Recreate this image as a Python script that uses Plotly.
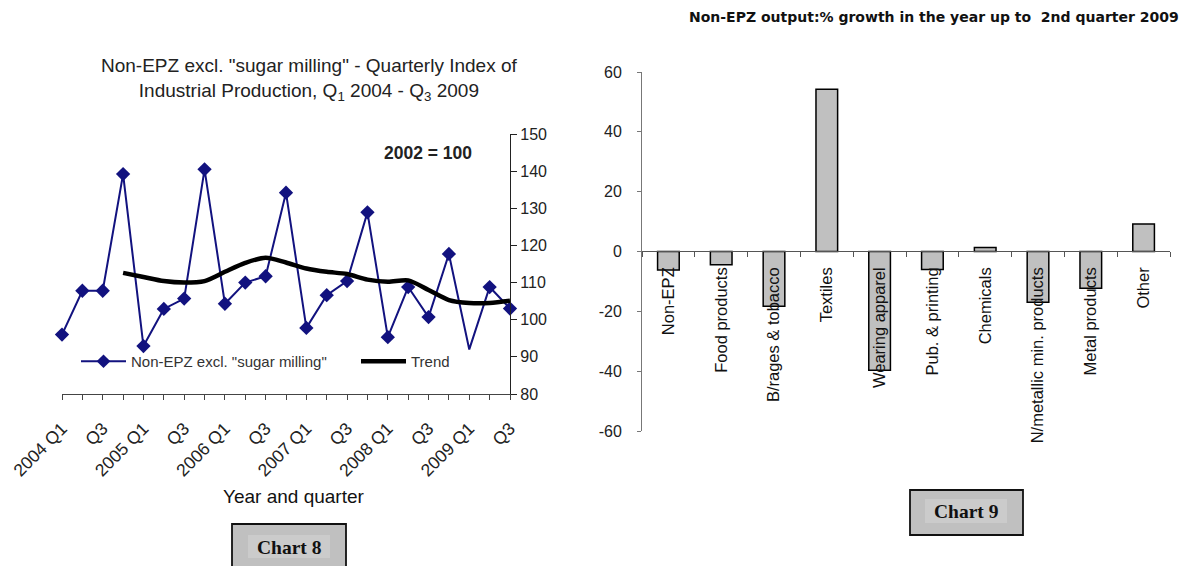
import plotly.graph_objects as go

# ---------------- data ----------------
quarter_labels = ["2004 Q1", "Q2", "Q3", "Q4",
                  "2005 Q1", "Q2", "Q3", "Q4",
                  "2006 Q1", "Q2", "Q3", "Q4",
                  "2007 Q1", "Q2", "Q3", "Q4",
                  "2008 Q1", "Q2", "Q3", "Q4",
                  "2009 Q1", "Q2", "Q3"]
index_values = [96.0, 107.8, 107.8, 139.2, 92.9, 102.9, 105.7, 140.5,
                104.3, 110.0, 111.7, 134.2, 97.8, 106.6, 110.4, 128.9,
                95.3, 108.8, 100.7, 117.7, 92.0, 108.8, 103.0]
trend_values = [None, None, None, 112.6, 111.5, 110.4, 110.0, 110.4,
                112.9, 115.3, 116.7, 115.4, 113.8, 112.9, 112.3, 110.8,
                110.2, 110.6, 108.0, 105.3, 104.5, 104.5, 105.1]

sectors = ["Non-EPZ", "Food products", "B/rages & tobacco", "Textiles",
           "Wearing apparel", "Pub. & printing", "Chemicals",
           "N/metallic min. products", "Metal products", "Other"]
growth = [-6.2, -4.4, -18.3, 54.2, -39.7, -6.0, 1.3, -17.0, -12.3, 9.2]
growth_ticks = [-60, -40, -20, 0, 20, 40, 60]
growth_tick_labels = ["-60", "-40", "-20", "0", "20", "40", "60"]

# ---------------- layout helpers ----------------
W, H = 1190, 566
def px(x):
    return x / W
def py(y):
    return 1 - y / H

FONT = "Arial, Liberation Sans, sans-serif"
SERIF = "Times New Roman, Liberation Serif, serif"
WIDE_BOLD = "DejaVu Sans, Arial, sans-serif"
BLUE = "#12127f"

x_idx = list(range(len(quarter_labels)))
major_idx = x_idx[::2]
major_text = quarter_labels[::2]
marker_sizes = [11] * len(index_values)
marker_sizes[20] = 0

fig = go.Figure()

fig.add_trace(go.Scatter(
    x=x_idx, y=index_values, mode="lines+markers",
    name='Non-EPZ excl. "sugar milling"',
    line=dict(color=BLUE, width=2),
    marker=dict(symbol="diamond", size=marker_sizes, color=BLUE,
                opacity=1, line=dict(width=0)),
    cliponaxis=False, xaxis="x", yaxis="y"))

fig.add_trace(go.Scatter(
    x=x_idx, y=trend_values, mode="lines", name="Trend",
    line=dict(color="black", width=4.5, shape="spline", smoothing=0.8),
    connectgaps=False, cliponaxis=False, xaxis="x", yaxis="y"))

fig.add_trace(go.Bar(
    x=sectors, y=growth, width=0.41, showlegend=False,
    marker=dict(color="#c0c0c0", line=dict(color="black", width=1.5)),
    xaxis="x2", yaxis="y2"))

# label-only companion traces (draw nothing; they carry the tick-label axes)
fig.add_trace(go.Scatter(x=x_idx, y=index_values, mode="none",
                         showlegend=False, hoverinfo="skip",
                         xaxis="x3", yaxis="y"))
fig.add_trace(go.Scatter(x=sectors, y=growth, mode="none",
                         showlegend=False, hoverinfo="skip",
                         xaxis="x4", yaxis="y2"))

fig.update_layout(
    width=W, height=H, margin=dict(l=0, r=0, t=0, b=0, autoexpand=False),
    paper_bgcolor="white", plot_bgcolor="white",
    font=dict(family=FONT, color="#222", size=15),
    # left chart: axis line + ticks
    xaxis=dict(domain=[px(62), px(510)], range=[0, 22], anchor="y",
               tickmode="linear", tick0=0, dtick=1, showticklabels=False,
               showline=True, linecolor="#444", linewidth=1,
               ticks="outside", ticklen=5, tickcolor="#444",
               showgrid=False, zeroline=False, automargin=False),
    # left chart: tick labels
    xaxis3=dict(overlaying="x", range=[0, 22], anchor="free",
                position=py(414),
                tickmode="array", tickvals=major_idx, ticktext=major_text,
                tickangle=-45, tickfont=dict(size=17.5, color="#222"),
                ticks="", showline=False,
                showgrid=False, zeroline=False, automargin=False),
    yaxis=dict(domain=[py(394), py(134)], range=[80, 150], dtick=10,
               side="right", anchor="x",
               tickfont=dict(size=16, color="#222"),
               showline=True, linecolor="#222", linewidth=1.2,
               ticks="outside", ticklen=6, tickcolor="#222",
               showgrid=False, zeroline=False, automargin=False),
    # right chart: axis line at zero + boundary ticks
    xaxis2=dict(domain=[px(642), px(1170)], anchor="free",
                position=py(251), showticklabels=False,
                showline=True, linecolor="#555", linewidth=1.2,
                ticks="outside", ticklen=5, tickcolor="#555",
                tickson="boundaries",
                showgrid=False, zeroline=False, automargin=False),
    # right chart: category labels
    xaxis4=dict(overlaying="x2", matches="x2", anchor="free",
                position=py(263),
                tickangle=-90, tickfont=dict(size=16.5, color="#111"),
                ticks="", showline=False,
                showgrid=False, zeroline=False, automargin=False),
    yaxis2=dict(domain=[py(431), py(72)], range=[-60, 60],
                tickmode="array", tickvals=growth_ticks,
                ticktext=growth_tick_labels,
                anchor="x2", ticklabelstandoff=12,
                tickfont=dict(size=16, color="#222"),
                showline=True, linecolor="#777", linewidth=1,
                ticks="outside", ticklen=4, tickcolor="#777",
                showgrid=False, zeroline=False, automargin=False),
    legend=dict(orientation="h", x=px(76), y=py(345), xanchor="left",
                yanchor="top", font=dict(size=15, color="#333"),
                bgcolor="rgba(0,0,0,0)", entrywidth=220,
                entrywidthmode="pixels", itemwidth=45),
)

def ann(text, x, y, size, xanchor="center", family=FONT, color="#222"):
    return dict(text=text, x=px(x), y=py(y), xref="paper", yref="paper",
                xanchor=xanchor, yanchor="middle", showarrow=False,
                align="center", font=dict(size=size, color=color, family=family))

annotations = [
    ann('Non-EPZ excl. "sugar milling" - Quarterly Index of<br>'
        'Industrial Production, Q<sub>1</sub> 2004 - Q<sub>3</sub> 2009',
        309, 79, 19),
    ann("<b>2002 = 100</b>", 428, 153, 17.5),
    ann("Year and quarter", 294, 496, 19, color="#111"),
    ann("<b>Non-EPZ output:% growth in the year up to  2nd quarter 2009</b>",
        1181, 17, 14, xanchor="right", family=WIDE_BOLD, color="#111"),
    ann("<b>Chart 8</b>", 289, 547, 19.5, family=SERIF, color="#111"),
    ann("<b>Chart 9</b>", 966, 511, 19.5, family=SERIF, color="#111"),
]
fig.update_layout(annotations=annotations)

shapes = [
    dict(type="rect", xref="paper", yref="paper", x0=px(232), x1=px(346),
         y0=py(572), y1=py(524), fillcolor="#c0c0c0",
         line=dict(color="#111", width=1.8), layer="below"),
    dict(type="rect", xref="paper", yref="paper", x0=px(248), x1=px(330),
         y0=py(558), y1=py(535), fillcolor="#cbcbcb",
         line=dict(width=0), layer="below"),
    dict(type="rect", xref="paper", yref="paper", x0=px(910), x1=px(1023),
         y0=py(535), y1=py(490), fillcolor="#c0c0c0",
         line=dict(color="#111", width=1.8), layer="below"),
    dict(type="rect", xref="paper", yref="paper", x0=px(925), x1=px(1007),
         y0=py(523), y1=py(499), fillcolor="#cbcbcb",
         line=dict(width=0), layer="below"),
]
fig.update_layout(shapes=shapes)

fig.write_html("out.html")
